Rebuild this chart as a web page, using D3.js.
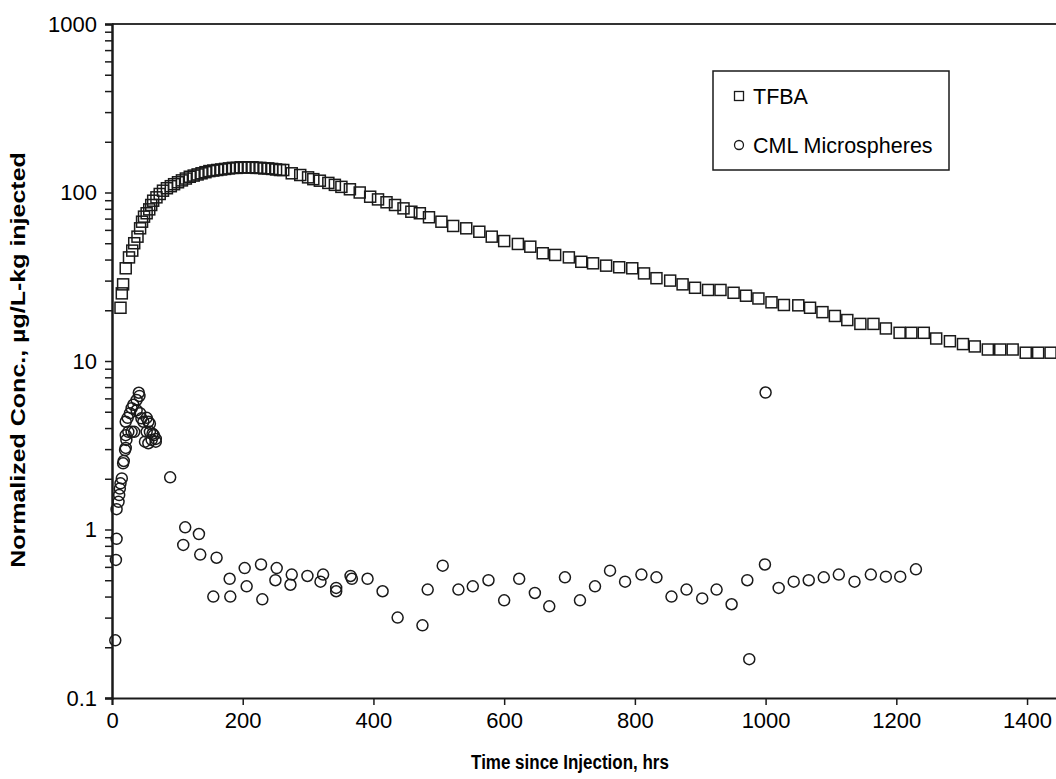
<!DOCTYPE html>
<html>
<head>
<meta charset="utf-8">
<script src="https://cdn.jsdelivr.net/npm/d3@7"></script>
<style>
  body { margin: 0; background: #fff; }
  svg { display: block; font-family: Arial, "Liberation Sans", sans-serif; }
</style>
</head>
<body>
<svg id="chart" width="1056" height="779"></svg>
<script>
// TFBA tracer, time (hrs) and normalized concentration
const tfbaTime = [13, 15, 17, 21, 26, 31, 34, 39, 43, 46, 49, 53, 57, 60, 63, 68, 73, 78, 84, 90, 95,
  101, 107, 113, 119, 125, 131, 137, 143, 149, 155, 161, 167, 173, 179, 185, 191, 197, 203, 209, 215,
  221, 227, 233, 239, 245, 251, 257, 262, 275, 288, 300, 308, 318, 331, 341, 351, 364, 379, 395, 407,
  420, 433, 446, 458, 471, 485, 504, 522, 542, 562, 581, 600, 621, 640, 659, 678, 699, 718, 736, 756,
  776, 796, 814, 833, 854, 873, 892, 912, 931, 951, 970, 989, 1009, 1028, 1050, 1068, 1087, 1106, 1125,
  1145, 1165, 1184, 1205, 1223, 1242, 1261, 1282, 1302, 1320, 1340, 1359, 1378, 1398, 1417, 1436];
const tfbaConc = [20.7, 25.2, 28.5, 35.5, 41.2, 45.2, 50, 54.7, 61.3, 67.1, 71.9, 75.3, 79.4, 84.3, 89.4, 93.6, 98, 102.5, 106, 109, 112,
  115, 118, 121, 124, 126, 128, 130, 132, 134, 135, 136, 137, 138, 139, 140, 140, 141, 141, 141, 141,
  140, 140, 139, 139, 138, 137, 136, 136, 130, 127, 123, 120, 117.5, 114, 111, 108, 104.5, 100, 94.4, 91,
  87.5, 84.3, 80.5, 76.9, 75.3, 71.3, 67.1, 63.3, 61.3, 58.5, 54.7, 51.5, 49.5, 47.7, 43.6, 42.6, 41.2, 38.8, 38, 36.8,
  36, 35.5, 33.1, 31, 30, 28.5, 27.2, 26.4, 26.4, 25.4, 24.4, 23.5, 22.3, 21.5, 21.4, 20.7, 19.5, 18.5, 17.5,
  16.6, 16.6, 15.6, 14.7, 14.7, 14.7, 13.6, 13.1, 12.6, 12.2, 11.7, 11.7, 11.7, 11.2, 11.2, 11.2];

// CML microspheres
const cmlTime = [5, 6, 7, 7, 10, 11, 12, 13, 15, 17, 18, 20, 21, 22, 21, 25, 30, 34, 21, 24, 27.5, 30, 32.6,
  37.7, 41, 42, 37.7, 43, 45, 48, 53, 55.6, 58, 53, 58, 62, 64, 50.5, 55.6, 60.7, 67, 67, 89,
  109, 112, 133, 135, 155, 160, 180, 181, 203, 206, 228, 230, 250, 252, 273, 275, 299, 319, 323,
  343, 343, 365, 367, 391, 414, 437, 475, 483, 506, 530, 552, 576, 600, 623, 647, 669, 693, 716,
  739, 762, 785, 810, 833, 856, 879, 903, 925, 948, 972, 975, 999, 1000, 1020, 1043, 1066, 1089,
  1112, 1136, 1161, 1184, 1206, 1230];
const cmlConc = [0.22, 0.66, 0.88, 1.32, 1.46, 1.6, 1.75, 1.88, 2.01, 2.47, 2.55, 2.96, 3.05, 3.4, 3.63, 3.8, 3.8, 3.8, 4.36, 4.6, 4.9, 5.25, 5.5,
  5.87, 6.48, 6.2, 5.1, 4.9, 4.57, 4.36, 4.6, 4.36, 4.24, 3.8, 3.8, 3.7, 3.63, 3.32, 3.25, 3.4, 3.32, 3.45, 2.04,
  0.81, 1.03, 0.94, 0.71, 0.40, 0.68, 0.51, 0.40, 0.59, 0.46, 0.62, 0.385, 0.50, 0.59, 0.47, 0.54, 0.53, 0.49, 0.54,
  0.45, 0.43, 0.53, 0.51, 0.51, 0.43, 0.30, 0.27, 0.44, 0.61, 0.44, 0.46, 0.50, 0.38, 0.51, 0.42, 0.35, 0.52, 0.38,
  0.46, 0.57, 0.49, 0.54, 0.52, 0.40, 0.44, 0.39, 0.44, 0.36, 0.50, 0.17, 0.62, 6.5, 0.45, 0.49, 0.50, 0.52,
  0.54, 0.49, 0.54, 0.525, 0.525, 0.58];

const xTicks = [0, 200, 400, 600, 800, 1000, 1200, 1400];
const yTicks = [0.1, 1, 10, 100, 1000];
const seriesNames = ['TFBA', 'CML Microspheres'];

const svg = d3.select('#chart');
const margin = { top: 24, left: 112, bottom: 81 };
const height = 779 - margin.top - margin.bottom;

const x = d3.scaleLinear().domain([0, 1500]).range([margin.left, margin.left + 1500 * 0.6536]);
const y = d3.scaleLog().domain([0.1, 1000]).range([margin.top + height, margin.top]);

const ink = '#1a1a1a';
const fontFam = 'Arial, "Liberation Sans", sans-serif';

// top frame line
svg.append('line')
  .attr('x1', x(0)).attr('x2', x(1500))
  .attr('y1', y(1000)).attr('y2', y(1000))
  .attr('stroke', '#333').attr('stroke-width', 2);

// minor log ticks
const minor = [];
for (let d = 0.1; d < 1000; d *= 10) {
  for (let k = 2; k <= 9; k++) minor.push(+(d * k).toPrecision(3));
}

const gy = svg.append('g').attr('transform', 'translate(' + x(0) + ',0)');
gy.call(d3.axisLeft(y).tickValues(minor).tickSize(7).tickFormat(''));
gy.append('g').call(d3.axisLeft(y).tickValues(yTicks).tickSize(7).tickPadding(8)
  .tickFormat(d => d < 1 ? '0.1' : d3.format('d')(d)));
gy.selectAll('.domain').attr('stroke', ink).attr('stroke-width', 2);
gy.selectAll('.tick line').attr('stroke', ink).attr('stroke-width', 1.5);
gy.selectAll('text').attr('font-size', 22).attr('fill', '#000').attr('font-family', fontFam);

const gx = svg.append('g').attr('transform', 'translate(0,' + y(0.1) + ')')
  .call(d3.axisBottom(x).tickValues(xTicks).tickSize(7).tickPadding(7).tickFormat(d3.format('d')));
gx.select('.domain').attr('stroke', ink).attr('stroke-width', 2);
gx.selectAll('.tick line').attr('stroke', ink).attr('stroke-width', 1.5);
gx.selectAll('text').attr('font-size', 22).attr('fill', '#000').attr('font-family', fontFam);

// axis titles
svg.append('text')
  .attr('transform', 'translate(570,769) scale(1,1.15)')
  .attr('text-anchor', 'middle')
  .attr('font-weight', 'bold').attr('font-size', 17)
  .text('Time since Injection, hrs');

svg.append('text')
  .attr('transform', 'translate(25,' + 360 + ') rotate(-90) scale(1,0.8)')
  .attr('text-anchor', 'middle')
  .attr('font-weight', 'bold').attr('font-size', 25)
  .text('Normalized Conc., \u00b5g/L-kg injected');

// data
const tfba = tfbaTime.map((t, i) => ({ t: t, v: tfbaConc[i] }));
const cml = cmlTime.map((t, i) => ({ t: t, v: cmlConc[i] }));
const sq = 11;

svg.append('g').selectAll('rect')
  .data(tfba).enter().append('rect')
  .attr('x', d => x(d.t) - sq / 2)
  .attr('y', d => y(d.v) - sq / 2)
  .attr('width', sq).attr('height', sq)
  .attr('fill', 'none').attr('stroke', ink).attr('stroke-width', 1.5);

svg.append('g').selectAll('circle')
  .data(cml).enter().append('circle')
  .attr('cx', d => x(d.t))
  .attr('cy', d => y(d.v))
  .attr('r', 5.5)
  .attr('fill', 'none').attr('stroke', ink).attr('stroke-width', 1.5);

// legend
const legend = svg.append('g').attr('transform', 'translate(713,71)');
legend.append('rect')
  .attr('width', 236).attr('height', 99)
  .attr('fill', 'none').attr('stroke', ink).attr('stroke-width', 1.5);

const items = legend.selectAll('g.item')
  .data(seriesNames).enter().append('g')
  .attr('transform', (d, i) => 'translate(26,' + (25 + i * 49) + ')');

items.filter((d, i) => i === 0).append('rect')
  .attr('x', -4.5).attr('y', -4.5).attr('width', 9).attr('height', 9)
  .attr('fill', 'none').attr('stroke', ink).attr('stroke-width', 1.3);
items.filter((d, i) => i === 1).append('circle')
  .attr('r', 4.5)
  .attr('fill', 'none').attr('stroke', ink).attr('stroke-width', 1.3);
items.append('text')
  .attr('x', 14).attr('dy', '0.35em')
  .attr('font-size', 21.5)
  .text(d => d);
</script>
</body>
</html>
